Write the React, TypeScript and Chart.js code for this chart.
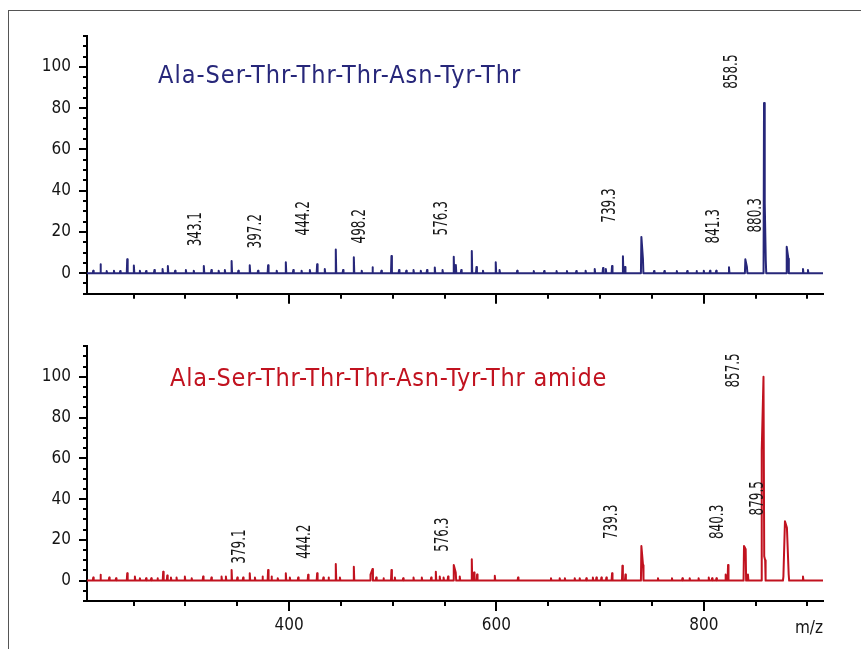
import React, { useEffect, useRef } from "react";
import { Chart, registerables } from "chart.js";

Chart.register(...registerables);

// ---- axis ranges and ticks ----
const X_MIN = 205;
const X_MAX = 915;
const Y_MIN = -10;
const Y_MAX = 115;
const X_LABEL_TICKS = [400, 600, 800];
const X_MINOR_TICKS = [250, 300, 350, 400, 450, 500, 550, 600, 650, 700, 750, 800, 850, 900];
const Y_LABEL_TICKS = [0, 20, 40, 60, 80, 100];
const Y_MINOR_TICKS = [-10, -5, 0, 5, 10, 15, 20, 25, 30, 35, 40, 45, 50, 55, 60, 65, 70, 75, 80, 85, 90, 95, 100, 105, 110, 115];
const X_UNIT = "m/z";

// ---- titles ----
const TOP_TITLE = "Ala-Ser-Thr-Thr-Thr-Asn-Tyr-Thr";
const BOTTOM_TITLE = "Ala-Ser-Thr-Thr-Thr-Asn-Tyr-Thr amide";

// ---- top spectrum (peaks: m/z, relative intensity) ----
const TOP_MZ = [211, 218, 224, 231, 237, 243.8, 250.2, 256, 262, 270, 277.9, 283, 290, 300.4, 308, 317.7, 325, 332, 338, 344.5, 351, 362, 370, 379.7, 388, 396.8, 404, 412, 420, 427, 434.4, 445, 452, 462.4, 470, 480.4, 489, 498.7, 506, 513, 520, 527, 533, 540.5, 548, 558.8, 560.8, 566, 576.2, 580.7, 587, 599.3, 603, 620, 636, 646, 658, 668, 677, 686, 694.8, 702.8, 705.5, 711.5, 722, 724, 739.8, 741.3, 752, 762, 774, 784, 793, 800, 806, 812, 824.3, 840.1, 841.6, 858.1, 858.8, 859.8, 880, 881.6, 895.7, 900.5];
const TOP_INT = [1.2, 4.3, 1.0, 1.2, 1.0, 6.7, 3.7, 1.2, 1.0, 1.5, 2.0, 3.5, 1.2, 1.5, 1.2, 3.5, 1.5, 1.2, 1.5, 5.9, 1.2, 3.8, 1.2, 3.8, 1.2, 5.3, 1.5, 1.2, 1.5, 4.3, 2.0, 11.5, 1.5, 7.7, 1.2, 2.9, 1.2, 8.3, 1.5, 1.2, 1.5, 1.2, 1.5, 2.8, 1.5, 8.0, 4.0, 1.5, 10.7, 3.0, 1.2, 5.3, 1.5, 1.2, 1.0, 1.0, 1.0, 1.0, 1.0, 1.2, 2.0, 2.5, 2.0, 3.5, 8.2, 3.0, 17.6, 7.0, 1.0, 1.0, 1.0, 1.0, 1.0, 1.2, 1.2, 1.2, 2.9, 6.7, 3.0, 82.5, 34, 6.0, 12.8, 7.0, 2.0, 1.5];

// ---- bottom spectrum (peaks: m/z, relative intensity) ----
const BOTTOM_MZ = [211, 218, 226.4, 233, 243.8, 251.2, 256, 262, 267, 273, 278.5, 282.4, 286, 291.4, 299.4, 306, 317, 325, 334.8, 339, 344.5, 350, 355.6, 362, 367, 374.3, 379.7, 383, 389, 396.8, 400.7, 408.7, 418.3, 427, 433, 438, 445, 449, 462.4, 478.5, 480.4, 484, 491, 498.7, 502, 510, 520, 528, 537, 541.5, 545.3, 549, 553.3, 558.8, 560.7, 564.6, 576.2, 578.4, 581.3, 598.4, 620.8, 652.6, 661, 666, 675.5, 680.3, 686.7, 693, 696.4, 701.2, 706, 711.5, 721.5, 724.4, 739.8, 741.4, 755.8, 769.3, 779.4, 786.4, 795, 804.8, 808, 812.2, 821.1, 823.4, 838.8, 840.4, 842.6, 855.9, 857.6, 858.3, 859.2, 876.8, 878.3, 880.2, 881.9, 895.7];
const BOTTOM_INT = [1.5, 2.9, 1.5, 1.2, 3.6, 2.0, 1.2, 1.2, 1.2, 1.2, 4.4, 2.5, 1.5, 1.5, 2.0, 1.2, 2.0, 1.5, 2.0, 2.0, 5.2, 1.5, 1.5, 3.6, 1.5, 2.0, 5.2, 2.0, 1.2, 3.6, 1.5, 1.5, 2.9, 3.6, 1.5, 1.5, 8.1, 1.5, 6.8, 3.0, 5.7, 1.5, 1.2, 5.2, 1.5, 1.2, 1.5, 1.5, 1.5, 4.4, 2.0, 1.5, 2.0, 7.6, 4.0, 2.0, 10.5, 4.0, 3.0, 2.4, 1.5, 1.2, 1.2, 1.2, 1.2, 1.2, 1.2, 1.5, 1.5, 1.5, 1.5, 3.6, 7.3, 3.0, 17.0, 7.5, 1.2, 1.2, 1.2, 1.2, 1.2, 1.5, 1.2, 1.2, 3.0, 7.6, 17.0, 15.4, 3.0, 64, 100, 12, 10, 2.0, 29.1, 25.9, 3.0, 2.0];

// ---- peak annotations (text, m/z anchor, intensity anchor) ----
const TOP_LABELS = ["343.1", "397.2", "444.2", "498.2", "576.3", "739.3", "841.3", "880.3", "858.5"];
const TOP_LABEL_X = [310.7, 367.9, 414.2, 468.2, 547.3, 709.3, 809.5, 850.0, 826.9];
const TOP_LABEL_Y = [13.0, 12.0, 18.3, 14.4, 18.3, 24.5, 14.4, 19.7, 89.4];
const BOTTOM_LABELS = ["379.1", "444.2", "576.3", "739.3", "840.3", "879.5", "857.5"];
const BOTTOM_LABEL_X = [352.5, 415.1, 548.2, 711.2, 813.4, 852.0, 828.8];
const BOTTOM_LABEL_Y = [8.3, 10.7, 14.1, 20.4, 20.4, 32.0, 94.7];

const NARROW = "'DejaVu Sans Condensed', 'Liberation Sans', sans-serif";
const BLUE = "#27277a";
const RED = "#c1121f";
const INK = "#151515";

function buildTrace(mz: number[], inten: number[]) {
  const w = 0.45;
  const gap = 2;
  const pts: { x: number; y: number }[] = [{ x: X_MIN, y: 0 }];
  for (let i = 0; i < mz.length; i++) {
    const prevClose = i > 0 && mz[i] - mz[i - 1] < gap;
    const nextClose = i < mz.length - 1 && mz[i + 1] - mz[i] < gap;
    if (!prevClose) pts.push({ x: mz[i] - w, y: 0 });
    pts.push({ x: mz[i], y: inten[i] });
    if (!nextClose) pts.push({ x: mz[i] + w, y: 0 });
  }
  pts.push({ x: X_MAX, y: 0 });
  return pts;
}

const axisTicksPlugin = {
  id: "axisTicks",
  afterDraw(chart: any) {
    const ctx = chart.ctx;
    const xs = chart.scales.x;
    const ys = chart.scales.y;
    const area = chart.chartArea;
    ctx.save();
    ctx.strokeStyle = "#000";
    ctx.lineWidth = 2;
    for (const v of Y_MINOR_TICKS) {
      const py = Math.round(ys.getPixelForValue(v));
      const len = Y_LABEL_TICKS.includes(v) ? 8 : 4;
      ctx.beginPath();
      ctx.moveTo(area.left, py);
      ctx.lineTo(area.left - len, py);
      ctx.stroke();
    }
    for (const v of X_MINOR_TICKS) {
      const px = Math.round(xs.getPixelForValue(v));
      const len = X_LABEL_TICKS.includes(v) ? 10 : 5;
      ctx.beginPath();
      ctx.moveTo(px, area.bottom);
      ctx.lineTo(px, area.bottom + len);
      ctx.stroke();
    }
    ctx.restore();
  },
};

function makeLabelPlugin(texts: string[], xs: number[], ys: number[], unit: string | null) {
  return {
    id: "peakLabels",
    afterDraw(chart: any) {
      const ctx = chart.ctx;
      const sx = chart.scales.x;
      const sy = chart.scales.y;
      ctx.save();
      ctx.fillStyle = INK;
      ctx.font = `18px ${NARROW}`;
      ctx.textAlign = "left";
      ctx.textBaseline = "middle";
      for (let i = 0; i < texts.length; i++) {
        const px = sx.getPixelForValue(xs[i]);
        const py = sy.getPixelForValue(ys[i]);
        ctx.save();
        ctx.translate(px, py);
        ctx.rotate(-Math.PI / 2);
        ctx.scale(0.74, 1.05);
        ctx.fillText(texts[i], 0, 0);
        ctx.restore();
      }
      if (unit) {
        ctx.font = `17px ${NARROW}`;
        ctx.textAlign = "right";
        ctx.textBaseline = "alphabetic";
        ctx.fillText(unit, chart.chartArea.right, chart.chartArea.bottom + 32);
      }
      ctx.restore();
    },
  };
}

function makeConfig(
  trace: { x: number; y: number }[],
  color: string,
  padTop: number,
  xAxisHeight: number,
  showXLabels: boolean,
  labelPlugin: any
) {
  return {
    type: "line" as const,
    data: {
      datasets: [
        {
          data: trace,
          borderColor: color,
          backgroundColor: color,
          borderWidth: 2,
          borderJoinStyle: "round" as const,
          borderCapStyle: "round" as const,
          pointRadius: 0,
          tension: 0,
          fill: false,
        },
      ],
    },
    options: {
      animation: false as const,
      responsive: false,
      maintainAspectRatio: false,
      layout: { padding: { left: 0, right: 38, top: padTop, bottom: 0 } },
      plugins: {
        legend: { display: false },
        tooltip: { enabled: false },
        title: { display: false },
      },
      scales: {
        x: {
          type: "linear" as const,
          min: X_MIN,
          max: X_MAX,
          grid: { display: false, drawTicks: false },
          border: { display: true, color: "#000", width: 2 },
          ticks: {
            display: showXLabels,
            padding: 14,
            color: INK,
            font: { family: NARROW, size: 17 },
            maxRotation: 0,
            autoSkip: false,
          },
          afterBuildTicks: (s: any) => {
            s.ticks = X_LABEL_TICKS.map((v) => ({ value: v }));
          },
          afterFit: (s: any) => {
            s.height = xAxisHeight;
          },
        },
        y: {
          type: "linear" as const,
          min: Y_MIN,
          max: Y_MAX,
          grid: { display: false, drawTicks: false },
          border: { display: true, color: "#000", width: 2 },
          ticks: {
            padding: 16,
            color: INK,
            font: { family: NARROW, size: 17 },
            autoSkip: false,
          },
          afterBuildTicks: (s: any) => {
            s.ticks = Y_LABEL_TICKS.map((v) => ({ value: v }));
          },
          afterFit: (s: any) => {
            s.width = 87;
          },
        },
      },
    },
    plugins: [axisTicksPlugin, labelPlugin],
  };
}

export default function App() {
  const topRef = useRef<HTMLCanvasElement>(null);
  const botRef = useRef<HTMLCanvasElement>(null);

  useEffect(() => {
    document.body.style.overflow = "hidden";
    const top = new Chart(
      topRef.current as HTMLCanvasElement,
      makeConfig(
        buildTrace(TOP_MZ, TOP_INT),
        BLUE,
        36,
        24,
        false,
        makeLabelPlugin(TOP_LABELS, TOP_LABEL_X, TOP_LABEL_Y, null)
      ) as any
    );
    const bot = new Chart(
      botRef.current as HTMLCanvasElement,
      makeConfig(
        buildTrace(BOTTOM_MZ, BOTTOM_INT),
        RED,
        23,
        48,
        true,
        makeLabelPlugin(BOTTOM_LABELS, BOTTOM_LABEL_X, BOTTOM_LABEL_Y, X_UNIT)
      ) as any
    );
    return () => {
      top.destroy();
      bot.destroy();
    };
  }, []);

  const titleStyle = (color: string, left: number, top: number, spacing: number): React.CSSProperties => ({
    position: "absolute",
    left,
    top,
    color,
    fontFamily: NARROW,
    fontSize: 25,
    lineHeight: "25px",
    letterSpacing: `${spacing}px`,
    whiteSpace: "nowrap",
  });

  return (
    <div>
      <div
        style={{
          position: "absolute",
          left: 8,
          top: 10,
          width: 853,
          height: 639,
          boxSizing: "border-box",
          borderTop: "1px solid #555",
          borderLeft: "1px solid #555",
        }}
      />
      <canvas
        ref={topRef}
        width={861}
        height={320}
        style={{ position: "absolute", left: 0, top: 0, width: 861, height: 320 }}
      />
      <canvas
        ref={botRef}
        width={861}
        height={329}
        style={{ position: "absolute", left: 0, top: 320, width: 861, height: 329 }}
      />
      <div style={titleStyle(BLUE, 158, 62, 1)}>{TOP_TITLE}</div>
      <div style={titleStyle(RED, 170, 365, 0.75)}>{BOTTOM_TITLE}</div>
    </div>
  );
}
